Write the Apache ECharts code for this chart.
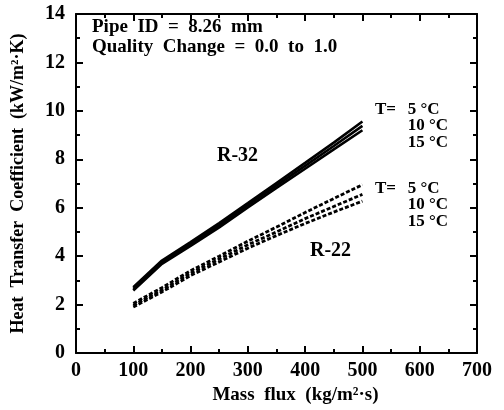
<!DOCTYPE html>
<html>
<head>
<meta charset="utf-8">
<script src="https://cdn.jsdelivr.net/npm/echarts@6/dist/echarts.min.js"></script>
<style>html,body{margin:0;padding:0;background:#fff}#c{width:504px;height:410px}</style>
</head>
<body>
<div id="c"></div>
<script>
var massFlux = [100, 150, 200, 250, 300, 350, 400, 450, 500];
var r32_5  = [2.72, 3.82, 4.58, 5.37, 6.19, 7.02, 7.85, 8.69, 9.56];
var r32_10 = [2.65, 3.75, 4.50, 5.28, 6.10, 6.92, 7.73, 8.55, 9.38];
var r32_15 = [2.58, 3.68, 4.42, 5.19, 6.01, 6.82, 7.61, 8.41, 9.20];
var r22_5  = [2.05, 2.70, 3.40, 4.00, 4.62, 5.20, 5.80, 6.38, 6.95];
var r22_10 = [1.97, 2.60, 3.30, 3.88, 4.47, 5.00, 5.55, 6.05, 6.55];
var r22_15 = [1.90, 2.52, 3.20, 3.76, 4.33, 4.85, 5.35, 5.82, 6.27];
var xTicks = [0, 100, 200, 300, 400, 500, 600, 700];
var yTicks = [0, 2, 4, 6, 8, 10, 12, 14];

function pairs(ys){ return massFlux.map(function(x,i){ return [x, ys[i]]; }); }

var serif = '"Liberation Serif", "DejaVu Serif", serif';
var chart = echarts.init(document.getElementById('c'), null, {renderer:'canvas'});

function solid(name, ys){
  return {name:name, type:'line', data:pairs(ys), showSymbol:false, silent:true,
    lineStyle:{color:'#000', width:2.6, type:'solid'}};
}
function dashed(name, ys){
  return {name:name, type:'line', data:pairs(ys), showSymbol:false, silent:true,
    lineStyle:{color:'#000', width:2.8, type:[4,2]}};
}

function axisBase(min, max, interval){
  return {
    type:'value', min:min, max:max, interval:interval,
    axisLine:{show:true, onZero:false, lineStyle:{color:'#000', width:2}},
    axisTick:{show:true, inside:true, length:7, lineStyle:{color:'#000', width:2}},
    minorTick:{show:true, splitNumber:2, length:4, lineStyle:{color:'#000', width:2}},
    splitLine:{show:false}
  };
}

var labelFont = {color:'#000', fontFamily:serif, fontWeight:'bold', fontSize:20};

var option = {
  backgroundColor:'#fff',
  animation:false,
  grid:{left:76, right:27, top:14, bottom:56},
  xAxis:[
    Object.assign(axisBase(0, 700, 100), {position:'bottom',
      axisLabel:Object.assign({margin:8}, labelFont),
      name:'Mass  flux  (kg/m²·s)', nameLocation:'middle', nameGap:33,
      nameTextStyle:{color:'#000', fontFamily:serif, fontWeight:'bold', fontSize:19, padding:[0,0,0,38]}}),
    Object.assign(axisBase(0, 700, 100), {position:'top', axisLabel:{show:false}})
  ],
  yAxis:[
    Object.assign(axisBase(0, 14, 2), {position:'left',
      axisLabel:Object.assign({margin:11}, labelFont),
      name:'Heat  Transfer  Coefficient  (kW/m²·K)', nameLocation:'middle', nameGap:49,
      nameTextStyle:{color:'#000', fontFamily:serif, fontWeight:'bold', fontSize:18}}),
    Object.assign(axisBase(0, 14, 2), {position:'right', axisLabel:{show:false}})
  ],
  graphic:[
    {type:'text', left:92, top:18, style:{text:'Pipe  ID  =  8.26  mm', fill:'#000', font:'bold 19px ' + serif}},
    {type:'text', left:92, top:38, style:{text:'Quality  Change  =  0.0  to  1.0', fill:'#000', font:'bold 19px ' + serif}},
    {type:'text', left:217, top:146, style:{text:'R-32', fill:'#000', font:'bold 20px ' + serif}},
    {type:'text', left:310, top:241, style:{text:'R-22', fill:'#000', font:'bold 20px ' + serif}},
    {type:'text', left:375, top:101, style:{text:'T=', fill:'#000', font:'bold 17px ' + serif}},
    {type:'text', right:56, top:101, style:{text:'5 °C\n10 °C\n15 °C', fill:'#000', font:'bold 17px ' + serif, align:'right', lineHeight:16.5}},
    {type:'text', left:375, top:180, style:{text:'T=', fill:'#000', font:'bold 17px ' + serif}},
    {type:'text', right:56, top:180, style:{text:'5 °C\n10 °C\n15 °C', fill:'#000', font:'bold 17px ' + serif, align:'right', lineHeight:16.5}}
  ],
  series:[
    solid('R-32 5', r32_5), solid('R-32 10', r32_10), solid('R-32 15', r32_15),
    dashed('R-22 5', r22_5), dashed('R-22 10', r22_10), dashed('R-22 15', r22_15)
  ]
};
chart.setOption(option);
</script>
</body>
</html>
